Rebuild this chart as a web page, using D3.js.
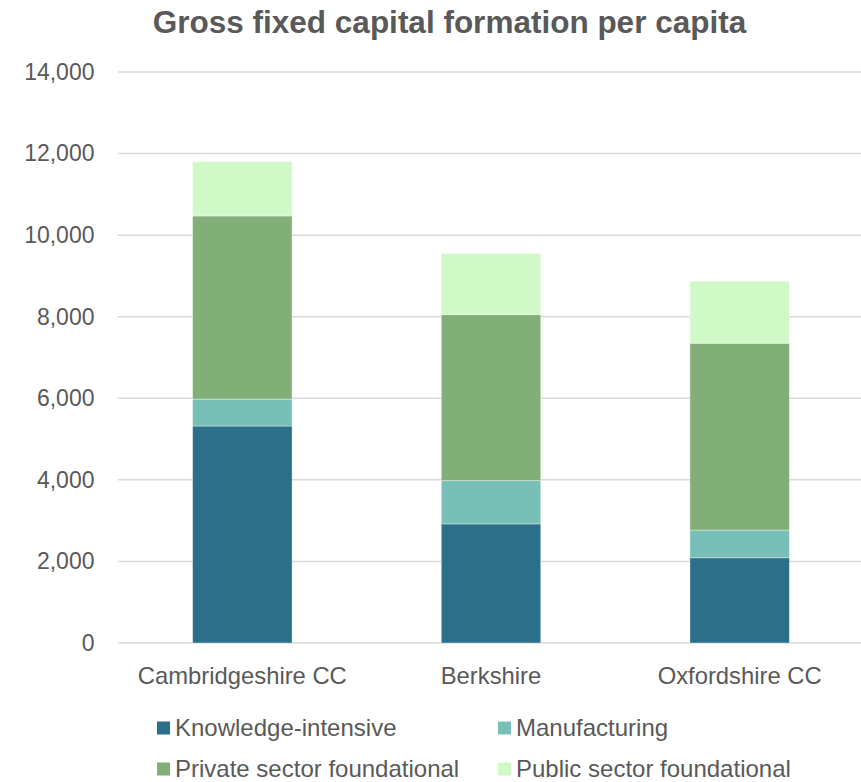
<!DOCTYPE html>
<html>
<head>
<meta charset="utf-8">
<script src="https://cdn.jsdelivr.net/npm/d3@7"></script>
<style>
  html, body { margin: 0; padding: 0; background: #fff; }
  svg text { font-family: "Liberation Sans", Arial, sans-serif; fill: #595959; }
</style>
</head>
<body>
<svg id="chart" width="861" height="782"></svg>
<script>
// Regions and per-capita GFCF by sector
const regions = ["Cambridgeshire CC", "Berkshire", "Oxfordshire CC"];
const sectors = ["Knowledge-intensive", "Manufacturing", "Private sector foundational", "Public sector foundational"];
const knowledgeIntensive = [5320, 2920, 2090];
const manufacturing = [660, 1060, 680];
const privateFoundational = [4490, 4070, 4580];
const publicFoundational = [1330, 1500, 1520];
const sectorColors = ["#2c6f8a", "#78c0b7", "#82ae78", "#cff9c7"];
const yTicks = [0, 2000, 4000, 6000, 8000, 10000, 12000, 14000];

const seriesValues = [knowledgeIntensive, manufacturing, privateFoundational, publicFoundational];
const rows = regions.map((r, i) => {
  const row = { region: r };
  sectors.forEach((s, j) => { row[s] = seriesValues[j][i]; });
  return row;
});

const svg = d3.select("#chart");
const plotLeft = 118, plotRight = 864, plotTop = 72, plotBottom = 643;

const x = d3.scaleBand().domain(regions).range([plotLeft, plotRight]).padding(0);
const barW = x.bandwidth() * 0.4;
const y = d3.scaleLinear().domain([0, 14000]).range([plotBottom, plotTop]);

// Gridlines
svg.append("g")
  .selectAll("line")
  .data(yTicks)
  .join("line")
  .attr("x1", plotLeft).attr("x2", 861)
  .attr("y1", d => y(d)).attr("y2", d => y(d))
  .attr("stroke", "#d9d9d9").attr("stroke-width", 1.5);

// Y axis labels
const yAxis = d3.axisLeft(y).tickValues(yTicks).tickFormat(d3.format(",")).tickSize(0).tickPadding(0);
const ya = svg.append("g").attr("transform", `translate(94.5,0)`).call(yAxis);
ya.select(".domain").remove();
ya.selectAll("text").style("font-size", "23px").attr("fill", "#595959").attr("font-family", "Liberation Sans, Arial, sans-serif");

// Stacked bars
const stack = d3.stack().keys(sectors)(rows);
svg.append("g")
  .selectAll("g")
  .data(stack)
  .join("g")
  .attr("fill", (d, i) => sectorColors[i])
  .selectAll("rect")
  .data(d => d)
  .join("rect")
  .attr("x", d => x(d.data.region) + x.bandwidth() / 2 - barW / 2)
  .attr("width", barW)
  .attr("y", d => y(d[1]))
  .attr("height", d => y(d[0]) - y(d[1]))
  .attr("stroke", "#ffffff").attr("stroke-opacity", 0.5).attr("stroke-width", 0.75);

// X axis labels
const xAxis = d3.axisBottom(x).tickSize(0).tickPadding(0);
const xa = svg.append("g").attr("transform", `translate(0,684)`).call(xAxis);
xa.select(".domain").remove();
xa.selectAll("text").attr("dy", 0).style("font-size", "23.8px").attr("fill", "#595959").attr("font-family", "Liberation Sans, Arial, sans-serif");

// Title
svg.append("text")
  .attr("x", 449.5).attr("y", 33)
  .attr("text-anchor", "middle")
  .style("font-size", "31.5px").style("font-weight", "bold")
  .text("Gross fixed capital formation per capita");

// Legend
const legendPos = [[157, 728], [498, 728], [157, 769], [498, 769]];
const lg = svg.append("g").selectAll("g").data(sectors).join("g")
  .attr("transform", (d, i) => `translate(${legendPos[i][0]},${legendPos[i][1]})`);
lg.append("rect").attr("x", 0).attr("y", -6.5).attr("width", 13).attr("height", 13)
  .attr("fill", (d, i) => sectorColors[i]);
lg.append("text").attr("x", 18).attr("y", 0).attr("dy", "0.35em")
  .style("font-size", "24px").text(d => d);
</script>
</body>
</html>
